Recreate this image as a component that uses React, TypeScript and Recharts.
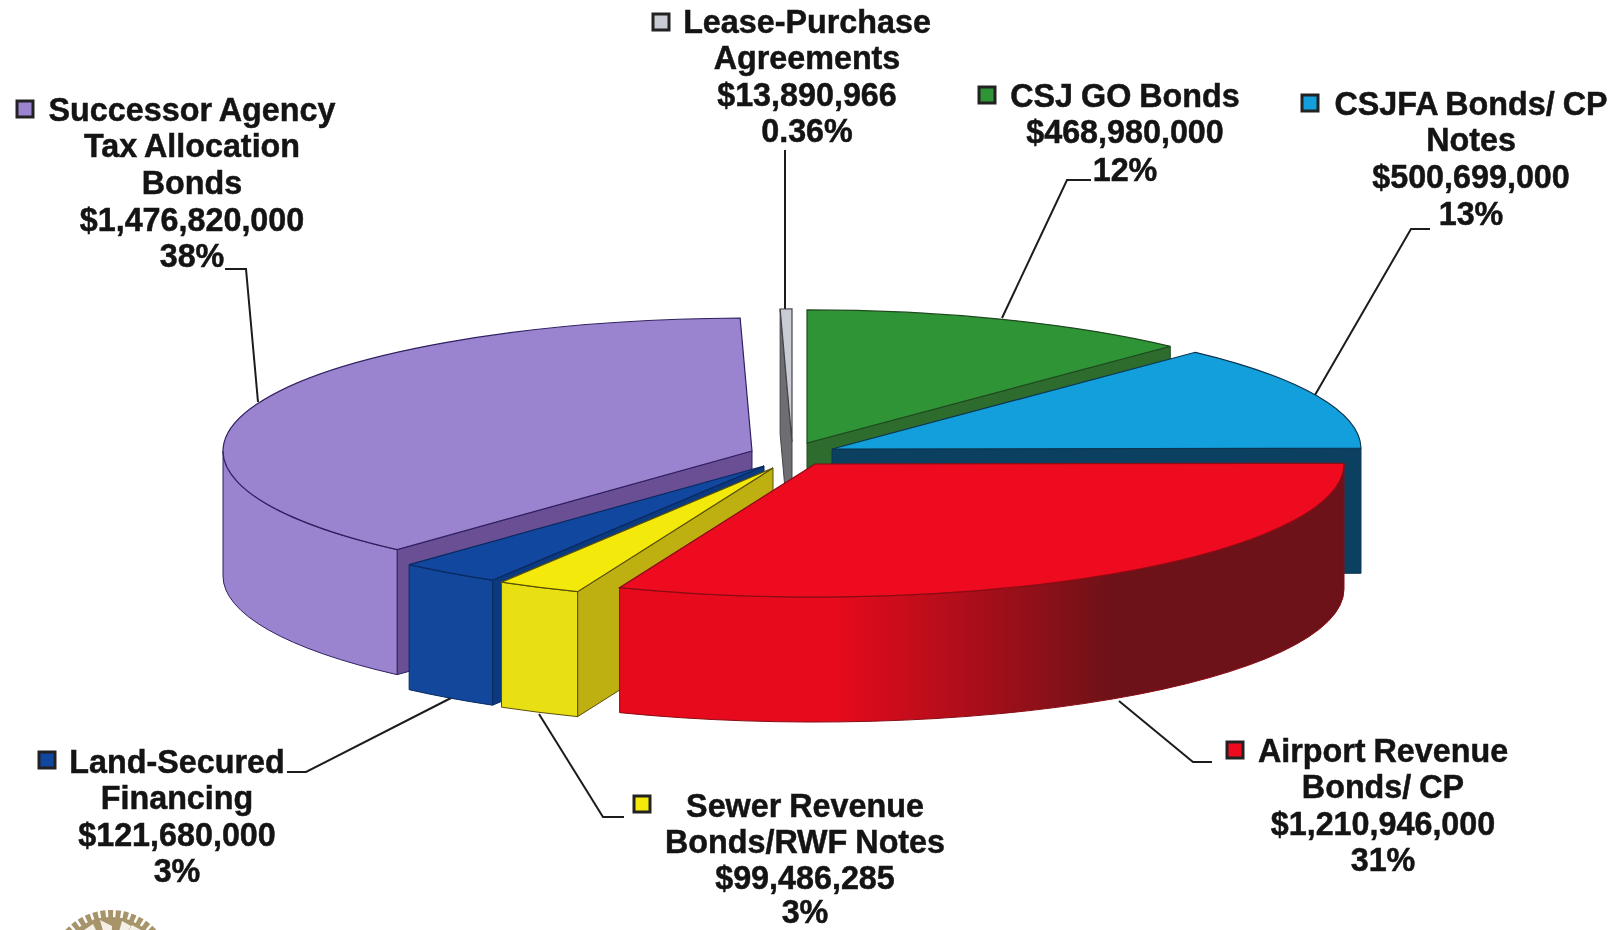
import React from "react";
import { PieChart, Pie, Customized } from "recharts";

const names = [
  "CSJ GO Bonds",
  "CSJFA Bonds/ CP Notes",
  "Airport Revenue Bonds/ CP",
  "Sewer Revenue Bonds/RWF Notes",
  "Land-Secured Financing",
  "Successor Agency Tax Allocation Bonds",
  "Lease-Purchase Agreements",
];
const amounts = [468980000, 500699000, 1210946000, 99486285, 121680000, 1476820000, 13890966];

// painter's order, back to front
const drawOrder = [6, 0, 1, 5, 4, 3, 2];

// exploded slice offsets from the pie centre
const offsetX = [17, 42, 25, -17, -26, -38, 2];
const offsetY = [-7, -1, 14, 18, 16, 1, -8];

const topColors = ["#2f9435", "#129fdc", "#ee0a1f", "#f3e90a", "#12479f", "#9a84cf", "#c9ccd4"];
const faceColors = ["#2e6c2e", "#0c4060", "#7a1218", "#bfb012", "#0c3a80", "#6b4f95", "#6e6e72"];
const wallStart = ["#2f8030", "#0c4a66", "#e60a1c", "#e8e012", "#12479c", "#9a84cf", "#808084"];
const wallEnd = ["#2f8030", "#0c4a66", "#6d1218", "#e8e012", "#12479c", "#9a84cf", "#808084"];
const edgeColors = ["#1f4a20", "#0b3550", "#8a0c14", "#5a5008", "#0a2a60", "#2f2060", "#444448"];

const CX = 790;
const CY = 450;
const RX = 529;
const TILT = 0.2515;
const DEPTH = 125;

const rad = (a: number) => (a * Math.PI) / 180;

function SliceShape(props: any) {
  const { startAngle, endAngle, outerRadius, cx, cy, index } = props;
  const ox = cx + offsetX[index];
  const oy = cy + offsetY[index];
  const rx = outerRadius;
  const ry = outerRadius * TILT;
  const px = (a: number) => ox + rx * Math.cos(rad(a));
  const py = (a: number) => oy - ry * Math.sin(rad(a));
  const edge = edgeColors[index];
  const large = startAngle - endAngle > 180 ? 1 : 0;
  const top = `M${ox},${oy} L${px(startAngle)},${py(startAngle)} A${rx},${ry} 0 ${large} 1 ${px(endAngle)},${py(endAngle)} Z`;

  const faces: string[] = [];
  if (Math.cos(rad(startAngle)) < -0.001) {
    faces.push(
      `M${ox},${oy} L${px(startAngle)},${py(startAngle)} L${px(startAngle)},${py(startAngle) + DEPTH} L${ox},${oy + DEPTH} Z`
    );
  }
  if (Math.cos(rad(endAngle)) > 0.001) {
    faces.push(
      `M${ox},${oy} L${px(endAngle)},${py(endAngle)} L${px(endAngle)},${py(endAngle) + DEPTH} L${ox},${oy + DEPTH} Z`
    );
  }

  // outer wall: only the part of the rim that faces the viewer
  const a1 = Math.min(startAngle, 0);
  const a2 = Math.max(endAngle, -180);
  let wall = "";
  if (a1 > a2) {
    wall =
      `M${px(a1)},${py(a1)} A${rx},${ry} 0 0 1 ${px(a2)},${py(a2)} ` +
      `L${px(a2)},${py(a2) + DEPTH} A${rx},${ry} 0 0 0 ${px(a1)},${py(a1) + DEPTH} Z`;
  }
  const gradId = `wall-${index}`;

  return (
    <g>
      <defs>
        <linearGradient
          id={gradId}
          gradientUnits="userSpaceOnUse"
          x1={px(a2)}
          x2={px(a1)}
          y1={0}
          y2={0}
        >
          <stop offset="0.3" stopColor={wallStart[index]} />
          <stop offset="0.68" stopColor={wallEnd[index]} />
        </linearGradient>
      </defs>
      {faces.map((d, i) => (
        <path key={i} d={d} fill={faceColors[index]} stroke={edge} strokeWidth={1} />
      ))}
      {wall && <path d={wall} fill={`url(#${gradId})`} stroke={edge} strokeWidth={1} />}
      <path d={top} fill={topColors[index]} stroke={edge} strokeWidth={1.2} />
    </g>
  );
}

const labelLines = [
  ["CSJ GO Bonds", "$468,980,000", "12%"],
  ["CSJFA Bonds/ CP", "Notes", "$500,699,000", "13%"],
  ["Airport Revenue", "Bonds/ CP", "$1,210,946,000", "31%"],
  ["Sewer Revenue", "Bonds/RWF Notes", "$99,486,285", "3%"],
  ["Land-Secured", "Financing", "$121,680,000", "3%"],
  ["Successor Agency", "Tax Allocation", "Bonds", "$1,476,820,000", "38%"],
  ["Lease-Purchase", "Agreements", "$13,890,966", "0.36%"],
];
const labelX = [1125, 1471, 1383, 805, 177, 192, 807];
const labelBaselines = [
  [107, 143, 181],
  [115, 151, 188, 225],
  [762, 798, 835, 871],
  [817, 853, 889, 923],
  [773, 809, 846, 882],
  [121, 157, 194, 231, 267],
  [33, 69, 106, 142],
];
const keyX = [987, 1310, 1235, 642, 47, 25, 661];
const keyY = [95, 103, 750, 804, 760, 109, 22];
const leaders = [
  "1091,180 1067,180 1002,318",
  "1430,229 1411,229 1315,395",
  "1212,762 1193,762 1119,701",
  "624,817 603,817 539,714",
  "287,772 306,772 451,698",
  "225,269 246,269 258,402",
  "785,150 785,309",
];

function Annotations() {
  return (
    <g
      fontFamily="'Liberation Sans', Arial, sans-serif"
      fontWeight="bold"
      fontSize={32.3}
      fill="#141414"
    >
      {leaders.map((pts, i) => (
        <polyline key={i} points={pts} fill="none" stroke="#1c1c1c" strokeWidth={2} />
      ))}
      {labelLines.map((lines, i) =>
        lines.map((t, j) => (
          <text
            key={`${i}-${j}`}
            x={labelX[i]}
            y={labelBaselines[i][j]}
            textAnchor="middle"
            wordSpacing={-1}
            stroke="#141414"
            strokeWidth={0.5}
          >
            {t}
          </text>
        ))
      )}
      {keyX.map((x, i) => (
        <rect
          key={i}
          x={x - 8}
          y={keyY[i] - 8}
          width={16}
          height={16}
          fill={topColors[i]}
          stroke="#222"
          strokeWidth={3}
        />
      ))}
      {/* city seal, cut off by the page edge */}
      <circle cx={111} cy={972} r={58} fill="none" stroke="#a8946a" strokeWidth={8} strokeDasharray="5 2.5" />
      <circle cx={111} cy={972} r={55} fill="#a8946a" />
      <path
        d="M111,960 L100,920 L112,926 Z M111,960 L122,921 L131,926 Z M111,960 L84,930 L93,924 Z M111,960 L141,930 L132,925 Z"
        fill="#f4f0e6"
      />
    </g>
  );
}

export default function App() {
  const data = names.map((name, i) => ({ name, value: amounts[i], sliceIndex: i }));
  return (
    <div style={{ width: 1617, height: 930, background: "#fff", overflow: "hidden", filter: "blur(0.5px)" }}>
      <style>{"body{margin:0}"}</style>
      <PieChart width={1617} height={930} margin={{ top: 0, right: 0, bottom: 0, left: 0 }}>
        {drawOrder.map((idx) => (
          <Pie
            key={idx}
            data={data}
            dataKey="value"
            nameKey="name"
            cx={CX}
            cy={CY}
            innerRadius={0}
            outerRadius={RX}
            startAngle={90}
            endAngle={-270}
            stroke="none"
            isAnimationActive={false}
            labelLine={false}
            shape={(p: any) => {
              const i = p.sliceIndex ?? p.payload?.sliceIndex;
              return i === idx ? <SliceShape {...p} index={i} /> : <g />;
            }}
          />
        ))}
        <Customized component={Annotations} />
      </PieChart>
    </div>
  );
}
